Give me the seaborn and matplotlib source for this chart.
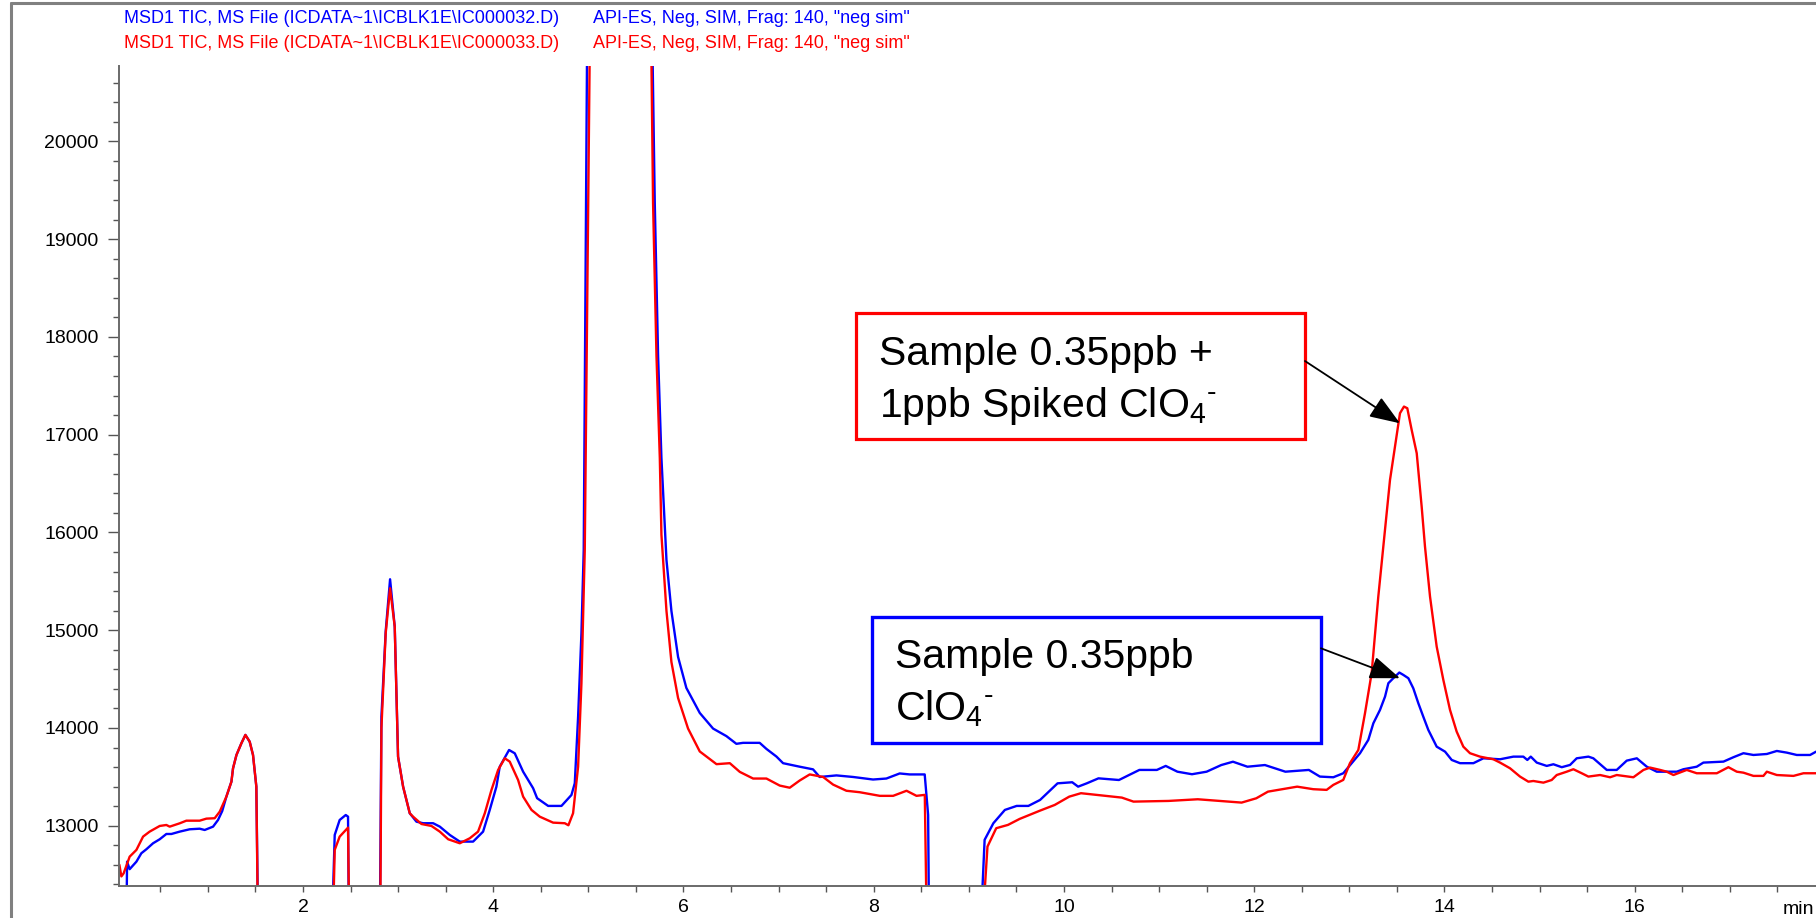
import numpy as np
import pandas as pd
import matplotlib
matplotlib.use("Agg")
import matplotlib.pyplot as plt
import seaborn as sns
from matplotlib.patches import Rectangle
from matplotlib.lines import Line2D
from matplotlib.ticker import MultipleLocator

# ---------------- data ----------------
# values below the axis floor / above the ceiling are off-scale readings
blue_time = [0.070, 0.145, 0.150, 0.177, 0.248, 0.300, 0.353, 0.423, 0.493, 0.563, 0.616, 0.703,
             0.808, 0.913, 0.966, 1.054, 1.106, 1.150, 1.194, 1.247, 1.264, 1.300, 1.352, 1.394,
             1.439, 1.474, 1.509, 1.540, 2.275, 2.333, 2.385, 2.449, 2.473, 2.490, 2.800, 2.824,
             2.869, 2.915, 2.964, 2.999, 3.052, 3.122, 3.192, 3.262, 3.368, 3.438, 3.543, 3.648,
             3.788, 3.893, 3.963, 4.033, 4.068, 4.166, 4.226, 4.314, 4.419, 4.461, 4.577, 4.717,
             4.822, 4.857, 4.892, 4.927, 4.951, 4.990, 5.100, 5.550, 5.665, 5.698, 5.733, 5.768,
             5.821, 5.873, 5.943, 6.030, 6.171, 6.311, 6.451, 6.556, 6.626, 6.801, 6.872, 6.977,
             7.047, 7.222, 7.362, 7.432, 7.608, 7.783, 7.993, 8.133, 8.273, 8.378, 8.536, 8.572,
             8.590, 9.080, 9.166, 9.258, 9.379, 9.503, 9.626, 9.749, 9.933, 10.087, 10.149, 10.240,
             10.363, 10.578, 10.793, 10.977, 11.070, 11.193, 11.346, 11.500, 11.654, 11.777, 11.929,
             12.113, 12.328, 12.575, 12.691, 12.832, 12.937, 13.025, 13.113, 13.200, 13.253, 13.323,
             13.376, 13.411, 13.463, 13.526, 13.568, 13.621, 13.673, 13.726, 13.778, 13.831, 13.919,
             14.007, 14.077, 14.164, 14.305, 14.410, 14.585, 14.725, 14.830, 14.872, 14.908, 14.971,
             15.076, 15.146, 15.234, 15.321, 15.391, 15.514, 15.566, 15.707, 15.812, 15.917, 16.023,
             16.128, 16.233, 16.443, 16.513, 16.653, 16.723, 16.934, 17.039, 17.144, 17.249, 17.390,
             17.495, 17.600, 17.705, 17.845, 17.908]
blue_tic = [12200, 12200, 12633, 12556, 12633, 12719, 12760, 12821, 12862, 12916, 12916, 12940,
            12964, 12970, 12957, 12991, 13059, 13150, 13298, 13451, 13588, 13724, 13844, 13929,
            13860, 13724, 13400, 11000, 11000, 12906, 13059, 13110, 13093, 11000, 11000, 14116,
            14990, 15521, 15036, 13707, 13400, 13128, 13042, 13026, 13026, 12991, 12906, 12838,
            12838, 12940, 13162, 13400, 13604, 13775, 13741, 13553, 13384, 13282, 13203, 13203,
            13315, 13435, 14116, 14969, 15819, 21500, 30000, 30000, 21500, 19369, 17804, 16761,
            15718, 15197, 14727, 14410, 14154, 13994, 13917, 13838, 13848, 13848, 13786, 13708,
            13640, 13604, 13577, 13499, 13515, 13499, 13473, 13483, 13535, 13525, 13525, 13111,
            11000, 11000, 12856, 13026, 13162, 13203, 13203, 13264, 13434, 13445, 13400, 13434,
            13485, 13468, 13571, 13571, 13612, 13553, 13527, 13553, 13621, 13655, 13604,
            13621, 13553, 13571, 13503, 13496, 13537, 13640, 13742, 13878, 14048, 14185,
            14321, 14458, 14509, 14567, 14543, 14509, 14406, 14253, 14116, 13980, 13809,
            13758, 13673, 13640, 13640, 13690, 13680, 13707, 13707, 13673, 13707, 13646,
            13612, 13629, 13599, 13622, 13690, 13707, 13690, 13571, 13571, 13666, 13690,
            13604, 13553, 13553, 13578, 13604, 13646, 13656, 13701, 13742, 13724, 13734,
            13765, 13748, 13724, 13724, 13758]

red_time = [0.069, 0.090, 0.114, 0.177, 0.248, 0.318, 0.387, 0.493, 0.563, 0.598, 0.703, 0.773,
            0.913, 0.984, 1.071, 1.124, 1.194, 1.247, 1.264, 1.300, 1.352, 1.394, 1.439, 1.474,
            1.509, 1.537, 2.290, 2.333, 2.385, 2.473, 2.498, 2.806, 2.824, 2.869, 2.915, 2.964,
            2.999, 3.052, 3.122, 3.157, 3.245, 3.350, 3.438, 3.526, 3.648, 3.753, 3.840, 3.911,
            3.981, 4.051, 4.121, 4.173, 4.261, 4.314, 4.402, 4.489, 4.629, 4.752, 4.790, 4.839,
            4.892, 4.927, 4.962, 5.020, 5.100, 5.550, 5.655, 5.680, 5.716, 5.751, 5.768, 5.821,
            5.873, 5.943, 6.048, 6.171, 6.347, 6.487, 6.592, 6.732, 6.872, 7.012, 7.117, 7.222,
            7.327, 7.468, 7.573, 7.713, 7.853, 8.064, 8.204, 8.345, 8.450, 8.537, 8.572, 9.080,
            9.196, 9.288, 9.412, 9.534, 9.749, 9.903, 10.056, 10.179, 10.609, 10.731, 11.100,
            11.407, 11.868, 12.022, 12.145, 12.452, 12.621, 12.762, 12.832, 12.937, 13.007, 13.095,
            13.165, 13.235, 13.305, 13.358, 13.393, 13.428, 13.481, 13.533, 13.575, 13.610, 13.656,
            13.709, 13.761, 13.796, 13.849, 13.919, 13.989, 14.059, 14.129, 14.199, 14.269, 14.374,
            14.515, 14.585, 14.690, 14.795, 14.883, 14.935, 15.041, 15.128, 15.181, 15.286, 15.356,
            15.444, 15.514, 15.637, 15.742, 15.812, 15.987, 16.093, 16.163, 16.268, 16.338, 16.408,
            16.548, 16.653, 16.864, 16.986, 17.074, 17.144, 17.249, 17.354, 17.390, 17.495, 17.670,
            17.775, 17.908]
red_tic = [12601, 12482, 12514, 12684, 12753, 12889, 12940, 12998, 13008, 12991, 13025, 13052,
           13052, 13073, 13077, 13144, 13298, 13451, 13588, 13724, 13844, 13929, 13860, 13724,
           13400, 11000, 11000, 12753, 12889, 12981, 11000, 11000, 14000, 14969, 15429, 15036,
           13707, 13400, 13128, 13093, 13018, 12998, 12940, 12862, 12821, 12872, 12940, 13128,
           13366, 13571, 13690, 13656, 13468, 13298, 13162, 13093, 13032, 13026, 13005, 13128,
           13604, 14458, 15819, 21500, 30000, 30000, 21500, 19369, 17804, 16761, 15977, 15197,
           14675, 14307, 13994, 13760, 13630, 13640, 13551, 13483, 13483, 13411, 13389, 13463,
           13525, 13499, 13421, 13358, 13343, 13306, 13306, 13358, 13306, 13316, 11000, 11000,
           12787, 12975, 13009, 13070, 13155, 13213, 13298, 13333, 13288, 13247, 13254,
           13271, 13237, 13281, 13349, 13400, 13374, 13367, 13418, 13469, 13640, 13775,
           14150, 14560, 15343, 15855, 16196, 16536, 16877, 17219, 17287, 17270, 17048,
           16810, 16264, 15855, 15343, 14832, 14491, 14185, 13963, 13809, 13742, 13707,
           13680, 13646, 13588, 13503, 13451, 13458, 13441, 13468, 13519, 13553, 13578,
           13537, 13503, 13519, 13496, 13519, 13496, 13571, 13595, 13571, 13553, 13519,
           13571, 13537, 13537, 13599, 13553, 13543, 13510, 13510, 13553, 13519, 13510,
           13537, 13537]

header_files = [r"MSD1 TIC, MS File (ICDATA~1\ICBLK1E\IC000032.D)",
                r"MSD1 TIC, MS File (ICDATA~1\ICBLK1E\IC000033.D)"]
header_method = 'API-ES, Neg, SIM, Frag: 140, "neg sim"'
label_red = ["Sample 0.35ppb +", r"1ppb Spiked ClO$_4{}^{\text{-}}$"]
label_blue = ["Sample 0.35ppb", r"ClO$_4{}^{\text{-}}$"]

# ---------------- style ----------------
sns.set_style("ticks")
plt.rcParams['font.family'] = ['Liberation Sans', 'DejaVu Sans']
plt.rcParams['text.color'] = 'black'
plt.rcParams['mathtext.fontset'] = 'custom'
plt.rcParams['mathtext.rm'] = 'Liberation Sans'
plt.rcParams['mathtext.it'] = 'Liberation Sans:italic'
plt.rcParams['mathtext.bf'] = 'Liberation Sans:bold'
plt.rcParams['mathtext.default'] = 'regular'

BLUE = '#0000ff'
RED = '#ff0000'
W, H = 1816, 918
fig = plt.figure(figsize=(W / 100, H / 100), dpi=100)
fig.patch.set_facecolor('white')
ax = fig.add_axes([119 / W, 1 - 886 / H, (W - 119) / W, (886 - 66) / H])

df_b = pd.DataFrame({'time': blue_time, 'tic': blue_tic})
df_r = pd.DataFrame({'time': red_time, 'tic': red_tic})
sns.lineplot(data=df_b, x='time', y='tic', ax=ax, color=BLUE, lw=1.7,
             estimator=None, sort=False)
sns.lineplot(data=df_r, x='time', y='tic', ax=ax, color=RED, lw=1.7,
             estimator=None, sort=False)

ax.set_xlim(0.065, 17.907)
ax.set_ylim(12384, 20770)
ax.set_xlabel('')
ax.set_ylabel('')
ax.ticklabel_format(useOffset=False, style='plain', axis='y')

sns.despine(ax=ax, top=True, right=True)
for s in ('left', 'bottom'):
    ax.spines[s].set_color('#6a6a6a')
    ax.spines[s].set_linewidth(1.4)

ax.xaxis.set_major_locator(MultipleLocator(2))
ax.xaxis.set_minor_locator(MultipleLocator(0.5))
ax.yaxis.set_major_locator(MultipleLocator(1000))
ax.yaxis.set_minor_locator(MultipleLocator(200))
ax.tick_params(axis='x', which='both', direction='out', length=4.3, width=1.0,
               color='#555555', pad=5, labelsize=14, labelcolor='black')
ax.tick_params(axis='y', which='major', direction='out', length=7.7, width=1.0,
               color='#555555', pad=7, labelsize=14, labelcolor='black')
ax.tick_params(axis='y', which='minor', direction='out', length=4.1, width=1.0,
               color='#555555')

# header lines
for i, (txt, col) in enumerate(zip(header_files, [BLUE, RED])):
    yy = 1 - (18.5 + 24.5 * i) / H
    fig.text(124 / W, yy, txt, color=col, fontsize=13, va='center', ha='left')
    fig.text(593 / W, yy, header_method, color=col, fontsize=13, va='center', ha='left')

# "min" unit label at axis end
fig.text(1798 / W, 1 - 909 / H, 'min', fontsize=14, ha='center', va='center')

# outer frame
fig.add_artist(Line2D([11 / W, 11 / W], [0, 1 - 3 / H], transform=fig.transFigure,
                      color='#808080', lw=2.2))
fig.add_artist(Line2D([11 / W, 1], [1 - 3 / H, 1 - 3 / H], transform=fig.transFigure,
                      color='#808080', lw=2.2))

# annotation boxes
ax.add_patch(Rectangle((7.812, 16953), 12.534 - 7.812, 18247 - 16953, fill=True,
                       facecolor='white', edgecolor=RED, lw=2.3, clip_on=False, zorder=5))
ax.add_patch(Rectangle((7.986, 13847), 12.702 - 7.986, 15139 - 13847, fill=True,
                       facecolor='white', edgecolor=BLUE, lw=2.4, clip_on=False, zorder=5))
ax.text(8.058, 17712, label_red[0], fontsize=29.5, va='baseline', ha='left', zorder=6)
ax.text(8.058, 17181, label_red[1], fontsize=29.5, va='baseline', ha='left', zorder=6)
ax.text(8.227, 14614, label_blue[0], fontsize=29.5, va='baseline', ha='left', zorder=6)
ax.text(8.227, 14075, label_blue[1], fontsize=29.5, va='baseline', ha='left', zorder=6)

arrow_kw = dict(arrowstyle='-|>,head_length=1.25,head_width=0.47', mutation_scale=15,
                color='black', lw=1.3, shrinkA=0, shrinkB=0)
ax.annotate('', xy=(13.533, 17116), xytext=(12.534, 17753), arrowprops=arrow_kw, zorder=7)
ax.annotate('', xy=(13.533, 14509), xytext=(12.702, 14815), arrowprops=arrow_kw, zorder=7)

fig.savefig('out.png', dpi=100, facecolor='white')
